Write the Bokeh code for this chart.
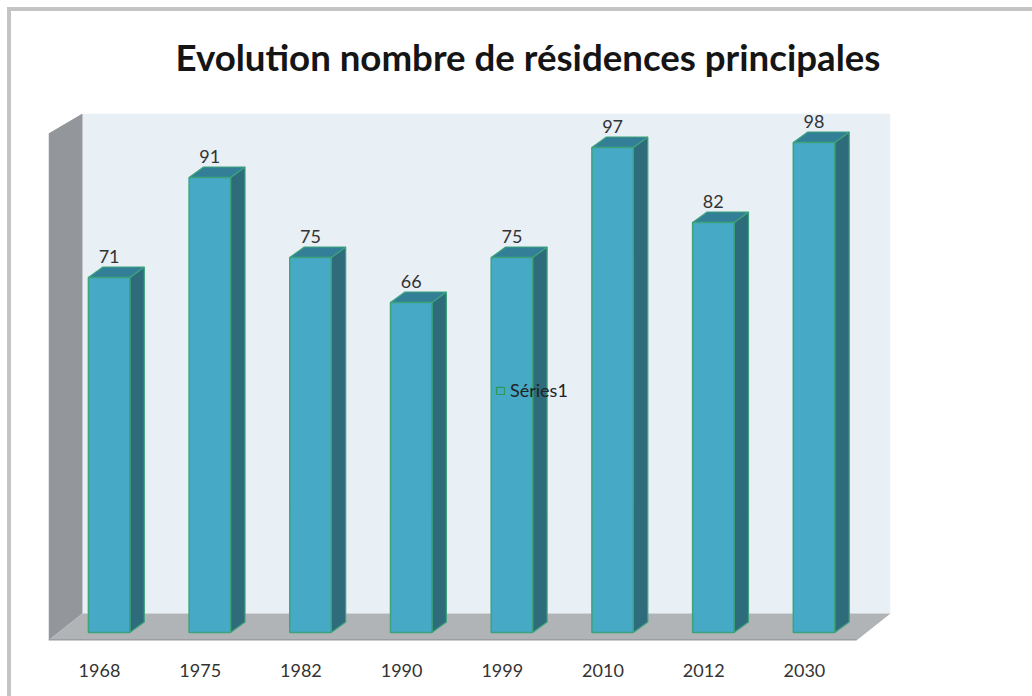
from bokeh.plotting import figure
from bokeh.models import Range1d, FixedTicker, Legend, LegendItem, ColumnDataSource, Title
from bokeh.core.properties import value
from bokeh.embed import file_html
from bokeh.resources import INLINE

title_text = "Evolution nombre de résidences principales"
years = ["1968", "1975", "1982", "1990", "1999", "2010", "2012", "2030"]
values = [71, 91, 75, 66, 75, 97, 82, 98]
series_name = "Séries1"

FONT = "Lato"
PX_X, PX_Y = 100.7, 5.0            # pixels per category / per value unit
XMIN, XMAX = -51 / PX_X, 791 / PX_X
YMIN, YMAX = -8 / PX_Y, 519 / PX_Y
DX, DY = 14.5 / PX_X, 10.5 / PX_Y  # 3D depth of a bar
SHIFT = 9.6 / PX_X                 # bar centre relative to its label
HALF = 20.7 / PX_X
WDX, WDY = 34 / PX_X, 27 / PX_Y    # 3D depth of the walls and the floor
NAN = float("nan")

p = figure(width=1032, height=696, frame_width=842, frame_height=527,
           output_backend="svg", toolbar_location=None,
           x_range=Range1d(XMIN, XMAX), y_range=Range1d(YMIN, YMAX),
           min_border_left=48, min_border_right=142, min_border_top=113, min_border_bottom=56,
           background_fill_alpha=0, border_fill_alpha=0, outline_line_color=None)
GREY = "linear-gradient(#c4c4c4,#c4c4c4)"
p.styles = {"background": f"{GREY} 7px 7px/4px 100% no-repeat, {GREY} 7px 7px/100% 4px no-repeat, white"}
p.grid.visible = False
p.yaxis.visible = False

ax = p.xaxis[0]
ax.ticker = FixedTicker(ticks=list(range(len(years))))
ax.major_label_overrides = {i: y for i, y in enumerate(years)}
ax.axis_line_color = None
ax.major_tick_line_color = None
ax.minor_tick_line_color = None
ax.major_label_standoff = 17
ax.major_label_text_font = FONT
ax.major_label_text_font_size = "18px"
ax.major_label_text_color = "#333333"

t = Title(text=title_text, align="left", offset=127, standoff=66, vertical_align="top",
          text_font=FONT, text_font_size="36.65px", text_font_style="bold", text_color="#151515")
p.title = t

# walls and floor
p.quad(left=[XMIN + WDX], right=[XMAX], bottom=[YMIN + WDY], top=[YMAX],
       fill_color="#e8eff5", line_color=None)
p.patch([XMIN, XMIN + WDX, XMIN + WDX, XMIN], [YMAX - WDY + 1.4, YMAX, YMIN + WDY, YMIN],
        fill_color="#93979b", line_color=None)
p.patch([XMIN, XMIN + WDX, XMAX, XMAX - WDX], [YMIN, YMIN + WDY, YMIN + WDY, YMIN],
        fill_color="#b0b4b7", line_color=None)
p.line([XMIN, XMAX - WDX], [YMIN + 0.1, YMIN + 0.1], line_color="#96999c", line_width=1.5)

# bars
xs = [i + SHIFT for i in range(len(values))]
side_x, side_y, top_x, top_y = [], [], [], []
for x, v in zip(xs, values):
    r = x + HALF
    l = x - HALF
    side_x.append([r, r + DX, r + DX, r])
    side_y.append([v, v + DY, DY, 0])
    top_x.append([l, l + DX, r + DX, r])
    top_y.append([v, v + DY, v + DY, v])
EDGE = "#3ca37c"
p.patches(side_x, side_y, fill_color="#2f6c7b", line_color=EDGE, line_width=1.2)
p.patches(top_x, top_y, fill_color="#337f97", line_color=EDGE, line_width=1.2)
p.quad(left=[x - HALF for x in xs], right=[x + HALF for x in xs], bottom=0, top=values,
       fill_color="#46a9c6", line_color=EDGE, line_width=1.5)

# data labels
p.text(x=xs, y=[v + DY for v in values], text=[str(v) for v in values], text_align="center",
       text_baseline="bottom", y_offset=-4, text_font=value(FONT), text_font_size="18px",
       text_color="#333333")

# legend, floating over the bars
swatch = p.quad(left="l", right="r", bottom="b", top="t",
                source=ColumnDataSource(dict(l=[NAN], r=[NAN], b=[NAN], t=[NAN])),
                fill_alpha=0, line_color="#2e9a5a", line_width=1.2)
legend = Legend(items=[LegendItem(label=series_name, renderers=[swatch], index=0)],
                location=(447, 239), orientation="vertical",
                background_fill_alpha=0, border_line_color=None, padding=0, margin=0,
                glyph_width=10, glyph_height=9, label_standoff=5,
                label_text_font=FONT, label_text_font_size="18px", label_text_color="#222222",
                label_height=16)
p.add_layout(legend, "center")

open("out.html", "w").write(file_html(p, INLINE))
